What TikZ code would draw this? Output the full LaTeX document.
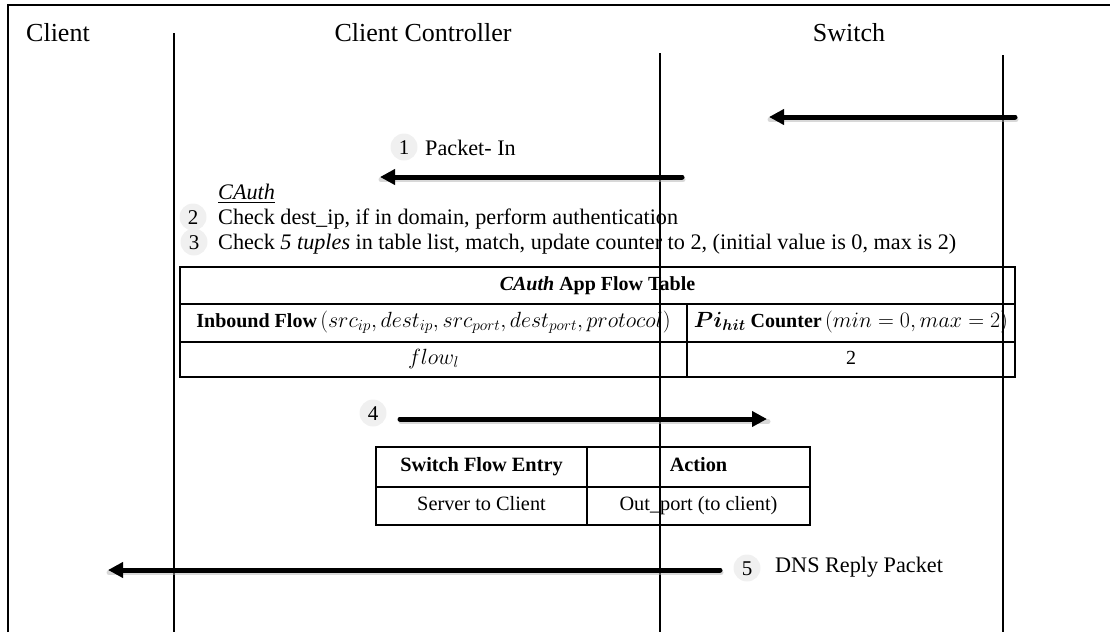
\RequirePackage{fix-cm}
\documentclass[tikz,border=0pt]{standalone}
\usepackage{amsmath}
\usepackage{fontspec}
\setmainfont{Liberation Serif}
\usetikzlibrary{arrows.meta}
\newcommand{\bigmath}[1]{{\fontsize{22}{25}\selectfont$#1$}}
\begin{document}
\begin{tikzpicture}[x=1pt,y=-1pt,
  life/.style={line width=2pt},
  frame/.style={line width=2pt},
  msg/.style={line width=5pt, line cap=round, -{Triangle[length=15pt,width=15pt]}},
  msgshadow/.style={line width=5pt, line cap=round, draw=black!30, opacity=0.5},
  num/.style={circle, fill=black!6, minimum size=27pt, inner sep=0pt, text height=14pt, text depth=0pt, font=\fontsize{21}{24}\selectfont},
  body/.style={font=\fontsize{22.2}{26}\selectfont, inner sep=0pt},
  head/.style={font=\fontsize{26}{30}\selectfont, inner sep=0pt},
  bigcell/.style={draw, line width=1.6pt, inner sep=0pt, text height=14pt, text depth=5pt, font=\fontsize{20}{23}\selectfont},
  swcell/.style={draw, line width=1.4pt, inner sep=0pt, text height=14pt, text depth=5pt, font=\fontsize{20.3}{23}\selectfont}
]
\useasboundingbox (0,0) rectangle (1110,632);
% frame
\coordinate (fbl) at (8,632);
\coordinate (ftl) at (8,5);
\coordinate (ftr) at (1110,5);
\draw[frame] (fbl) -- (ftl) -- (ftr);

% headers
\node[head, anchor=west] (hclient) at (26,33) {Client};
\node[head] (hcc) at (423,33) {Client Controller};
\node[head] (hsw) at (849,33) {Switch};

% lifelines
\coordinate (l1t) at (174,33);  \coordinate (l1b) at (174,632);
\coordinate (l2t) at (660,53);  \coordinate (l2b) at (660,632);
\coordinate (l3t) at (1003,55); \coordinate (l3b) at (1003,632);

% CAuth app flow table
\node[bigcell, minimum width=835pt, minimum height=37pt] (th) at (597.5,285.5) {\textbf{\textit{CAuth} App Flow Table}};
\node[bigcell, minimum width=507pt, minimum height=38pt] (t21) at (433.5,323) {\textbf{Inbound Flow}\,\bigmath{(src_{ip},dest_{ip},src_{port},dest_{port},protocol)}};
\node[bigcell, minimum width=328pt, minimum height=38pt] (t22) at (851,323) {\bigmath{\boldsymbol{Pi}_{\boldsymbol{hit}}} \textbf{Counter}\,\bigmath{(min=0,max=2)}};
\node[bigcell, minimum width=507pt, minimum height=35pt] (t31) at (433.5,359.5) {\bigmath{flow_l}};
\node[bigcell, minimum width=328pt, minimum height=35pt] (t32) at (851,359.5) {2};

% switch flow entry table
\node[swcell, minimum width=211pt, minimum height=40pt] (s11) at (481.5,467) {\textbf{Switch Flow Entry}};
\node[swcell, minimum width=223pt, minimum height=40pt] (s12) at (698.5,467) {\textbf{Action}};
\node[swcell, minimum width=211pt, minimum height=38pt] (s21) at (481.5,506) {Server to Client};
\node[swcell, minimum width=223pt, minimum height=38pt] (s22) at (698.5,506) {Out\_port (to client)};

\draw[life] (l1t) -- (l1b);
\draw[life] (l2t) -- (l2b);
\draw[life] (l3t) -- (l3b);

% texts
\node[num] (n1) at (404,147) {1};
\node[body, anchor=west] (t1) at (425,148) {Packet- In};
\node[body, anchor=base west] (cauth) at (218,199) {\underline{\textit{CAuth}}};
\node[num] (n2) at (193,217) {2};
\node[body, anchor=base west] (c2) at (218,224) {Check dest\_ip, if in domain, perform authentication};
\node[num] (n3) at (194,242) {3};
\node[body, anchor=base west] (c3) at (218,249) {Check \textit{5 tuples} in table list, match, update counter to 2, (initial value is 0, max is 2)};
\node[num] (n4) at (373,413) {4};
\node[num] (n5) at (747,568) {5};
\node[body, anchor=west] (t5) at (775,567) {DNS Reply Packet};

% messages
\coordinate (a0s) at (1015,117); \coordinate (a0e) at (769,117);
\coordinate (a1s) at (682,177);  \coordinate (a1e) at (380,177);
\coordinate (a4s) at (400,419);  \coordinate (a4e) at (767,419);
\coordinate (a5s) at (720,570);  \coordinate (a5e) at (108,570);
\foreach \s/\e in {a0s/a0e,a1s/a1e,a4s/a4e,a5s/a5e}{
  \draw[msgshadow, transform canvas={shift={(1pt,-2.5pt)}}] (\s) -- (\e);
  \draw[msg] (\s) -- (\e);
}
\end{tikzpicture}
\end{document}
